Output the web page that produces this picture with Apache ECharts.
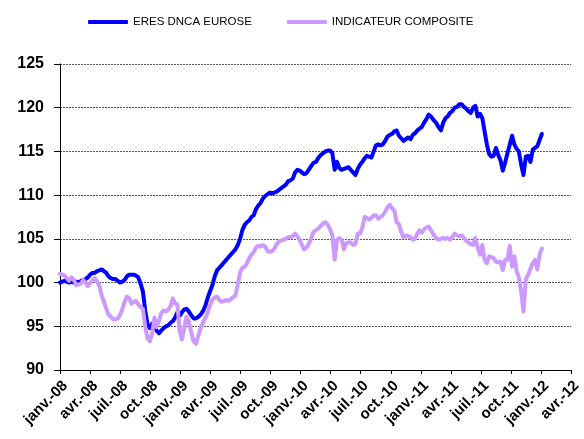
<!DOCTYPE html>
<html>
<head>
<meta charset="utf-8">
<script src="https://cdn.jsdelivr.net/npm/echarts@6/dist/echarts.min.js"></script>
<style>
  html, body { margin: 0; padding: 0; background: #ffffff; }
  #chart { width: 584px; height: 439px; }
</style>
</head>
<body>
<div id="chart"></div>
<script>
// Weekly closing values, first week starting 2008-01-01
const startDate = '2008-01-01';

const seriesNames = ['ERES DNCA EUROSE', 'INDICATEUR COMPOSITE'];

const eresDnca = [
  100.0, 100.1, 100.2, 100.1, 100.0, 100.1, 100.0, 100.1, 100.0, 100.2,
  100.3, 100.4, 100.6, 100.9, 101.1, 101.1, 101.3, 101.4, 101.5, 101.3,
  101.1, 100.7, 100.5, 100.4, 100.4, 100.2, 100.0, 100.1, 100.3, 100.7,
  100.9, 100.9, 100.9, 100.8, 100.6, 99.9, 99.0, 96.8, 95.2, 94.8,
  95.3, 94.9, 94.5, 94.2, 94.5, 94.8, 95.0, 95.1, 95.4, 95.6,
  96.0, 96.6, 96.2, 96.6, 96.9, 97.0, 96.7, 96.3, 95.9, 95.9,
  96.1, 96.4, 96.8, 97.4, 98.3, 99.0, 99.7, 100.7, 101.4, 101.7,
  102.0, 102.3, 102.6, 102.9, 103.2, 103.5, 103.8, 104.3, 105.0, 106.0,
  106.6, 106.9, 107.1, 107.5, 107.7, 108.4, 108.8, 109.1, 109.6, 109.9,
  110.1, 110.3, 110.2, 110.3, 110.4, 110.6, 110.8, 111.0, 111.2, 111.6,
  111.7, 111.9, 112.6, 112.9, 112.8, 112.6, 112.4, 112.5, 112.9, 113.3,
  113.7, 113.8, 114.3, 114.6, 114.8, 115.0, 115.1, 115.1, 114.8, 112.9,
  113.8, 113.1, 112.9, 113.0, 113.1, 113.2, 112.9, 112.6, 112.3, 113.0,
  113.5, 113.8, 114.2, 114.5, 114.4, 114.3, 115.0, 115.7, 115.8, 115.7,
  115.8, 116.2, 116.7, 116.9, 117.0, 117.3, 117.4, 116.8, 116.5, 116.2,
  116.4, 116.6, 116.4, 116.9, 117.1, 117.4, 117.6, 117.8, 118.3, 118.7,
  119.2, 119.0, 118.6, 118.3, 117.8, 117.4, 118.3, 118.8, 119.0, 119.4,
  119.6, 120.0, 120.1, 120.4, 120.4, 120.1, 119.9, 119.6, 119.4, 120.0,
  120.2, 119.0, 119.3, 118.8, 117.3, 115.8, 114.7, 114.4, 114.5, 115.4,
  114.6, 114.0, 112.8, 113.7, 114.8, 115.8, 116.8, 115.8, 115.3, 115.0,
  113.5, 112.3, 114.4, 114.5, 113.8, 115.2, 115.4, 115.6, 116.3, 117.0
];

const indicateurComposite = [
  101.0, 100.9, 100.8, 100.5, 100.2, 100.6, 100.3, 99.7, 99.8, 99.9,
  100.3, 100.0, 99.6, 99.9, 100.3, 100.5, 100.1, 99.6, 98.5, 97.8,
  97.0, 96.3, 96.1, 95.8, 95.8, 95.9, 96.3, 97.0, 97.8, 98.4,
  98.2, 97.6, 97.8, 97.9, 97.5, 97.2, 97.0, 95.0, 93.6, 93.3,
  94.2, 96.0, 94.9, 95.6, 96.5, 96.8, 96.7, 96.9, 97.3, 98.2,
  97.6, 97.5, 94.5, 93.5, 94.8, 96.1, 95.6, 94.4, 93.3, 93.0,
  94.0, 94.9, 95.5, 96.0, 96.6, 97.4, 98.0, 98.3, 98.4, 98.0,
  97.8, 97.9, 98.0, 97.9, 98.1, 98.3, 98.5, 99.8, 101.2, 101.7,
  101.8, 102.2, 102.8, 103.2, 103.5, 104.0, 104.2, 104.1, 104.3, 104.1,
  103.6, 103.5, 103.6, 103.9, 104.4, 104.7, 104.8, 104.9, 105.0, 105.2,
  105.2, 105.3, 105.6, 105.3, 104.9, 104.3, 103.8, 104.0, 104.4, 105.0,
  105.8, 106.0, 106.2, 106.5, 106.8, 106.9, 106.6, 106.1, 105.4, 102.6,
  104.9, 105.1, 104.9, 103.8, 104.5, 104.6, 104.6, 104.3, 104.4, 105.6,
  105.6, 106.3, 107.5, 107.4, 107.2, 107.4, 107.7, 107.7, 107.3, 107.5,
  107.7, 108.1, 108.6, 108.9, 108.5, 108.2, 106.9, 106.7, 105.8, 105.2,
  105.4, 105.3, 105.2, 104.9, 105.0, 105.6, 106.0, 105.7, 106.1, 106.3,
  106.4, 106.0, 105.5, 105.1, 104.9, 105.0, 105.1, 105.0, 105.1, 104.9,
  105.2, 105.6, 105.4, 105.3, 105.4, 105.1, 104.8, 104.6, 104.4, 104.3,
  105.1, 104.0, 103.2, 104.3, 102.6, 102.2, 103.0, 102.9, 102.8, 102.4,
  102.3, 102.4, 101.4, 102.6, 102.6, 104.2, 101.8, 103.0, 101.3, 100.6,
  99.0, 96.7, 100.4, 100.9, 101.6, 102.2, 102.6, 101.5, 103.2, 103.9
];

const tickLabels = [
  'janv.-08', 'avr.-08', 'juil.-08', 'oct.-08',
  'janv.-09', 'avr.-09', 'juil.-09', 'oct.-09',
  'janv.-10', 'avr.-10', 'juil.-10', 'oct.-10',
  'janv.-11', 'avr.-11', 'juil.-11', 'oct.-11',
  'janv.-12', 'avr.-12'
];

// Convert a date to a fractional month count from January 2008
function monthIndex(d) {
  const y = d.getUTCFullYear(), m = d.getUTCMonth();
  const dim = new Date(Date.UTC(y, m + 1, 0)).getUTCDate();
  return (y - 2008) * 12 + m + (d.getUTCDate() - 1) / dim;
}

function weeklyPoints(values) {
  const t0 = Date.parse(startDate + 'T00:00:00Z');
  return values.map((v, i) => [monthIndex(new Date(t0 + i * 7 * 86400000)), v]);
}

const chart = echarts.init(document.getElementById('chart'), null, { renderer: 'canvas' });

chart.setOption({
  animation: false,
  backgroundColor: '#ffffff',
  legend: {
    top: 16,
    left: 88,
    padding: 0,
    itemWidth: 40,
    itemHeight: 4,
    itemGap: 35,
    icon: 'roundRect',
    textStyle: { fontFamily: 'Liberation Sans, Arial, sans-serif', fontSize: 11.5, color: '#000' },
    data: seriesNames
  },
  grid: { left: 60, right: 4, top: 64, bottom: 69, containLabel: false },
  xAxis: {
    type: 'value',
    min: 0,
    max: 51,
    interval: 3,
    axisLine: { lineStyle: { color: '#000', width: 1 } },
    axisTick: { show: true, length: 4, lineStyle: { color: '#000' } },
    splitLine: { show: false },
    axisLabel: {
      rotate: 45,
      margin: 8,
      verticalAlign: 'top',
      fontFamily: 'Liberation Sans, Arial, sans-serif',
      fontSize: 15,
      fontWeight: 'bold',
      color: '#000',
      formatter: v => tickLabels[Math.round(v / 3)]
    }
  },
  yAxis: {
    type: 'value',
    min: 90,
    max: 125,
    interval: 5,
    axisLine: { show: true, lineStyle: { color: '#000', width: 1 } },
    axisTick: { show: true, length: 6, lineStyle: { color: '#000' } },
    splitLine: { show: true, lineStyle: { color: '#555', width: 1, type: [2, 1] } },
    axisLabel: {
      margin: 16,
      fontFamily: 'Liberation Sans, Arial, sans-serif',
      fontSize: 16,
      fontWeight: 'bold',
      color: '#000'
    }
  },
  series: [
    {
      name: seriesNames[0],
      type: 'line',
      data: weeklyPoints(eresDnca),
      showSymbol: false,
      symbol: 'none',
      color: '#0000ff',
      lineStyle: { width: 4, color: '#0000ff', cap: 'round', join: 'round' }
    },
    {
      name: seriesNames[1],
      type: 'line',
      data: weeklyPoints(indicateurComposite),
      showSymbol: false,
      symbol: 'none',
      color: '#cc99ff',
      lineStyle: { width: 4, color: '#cc99ff', cap: 'round', join: 'round' }
    }
  ]
});
</script>
</body>
</html>
